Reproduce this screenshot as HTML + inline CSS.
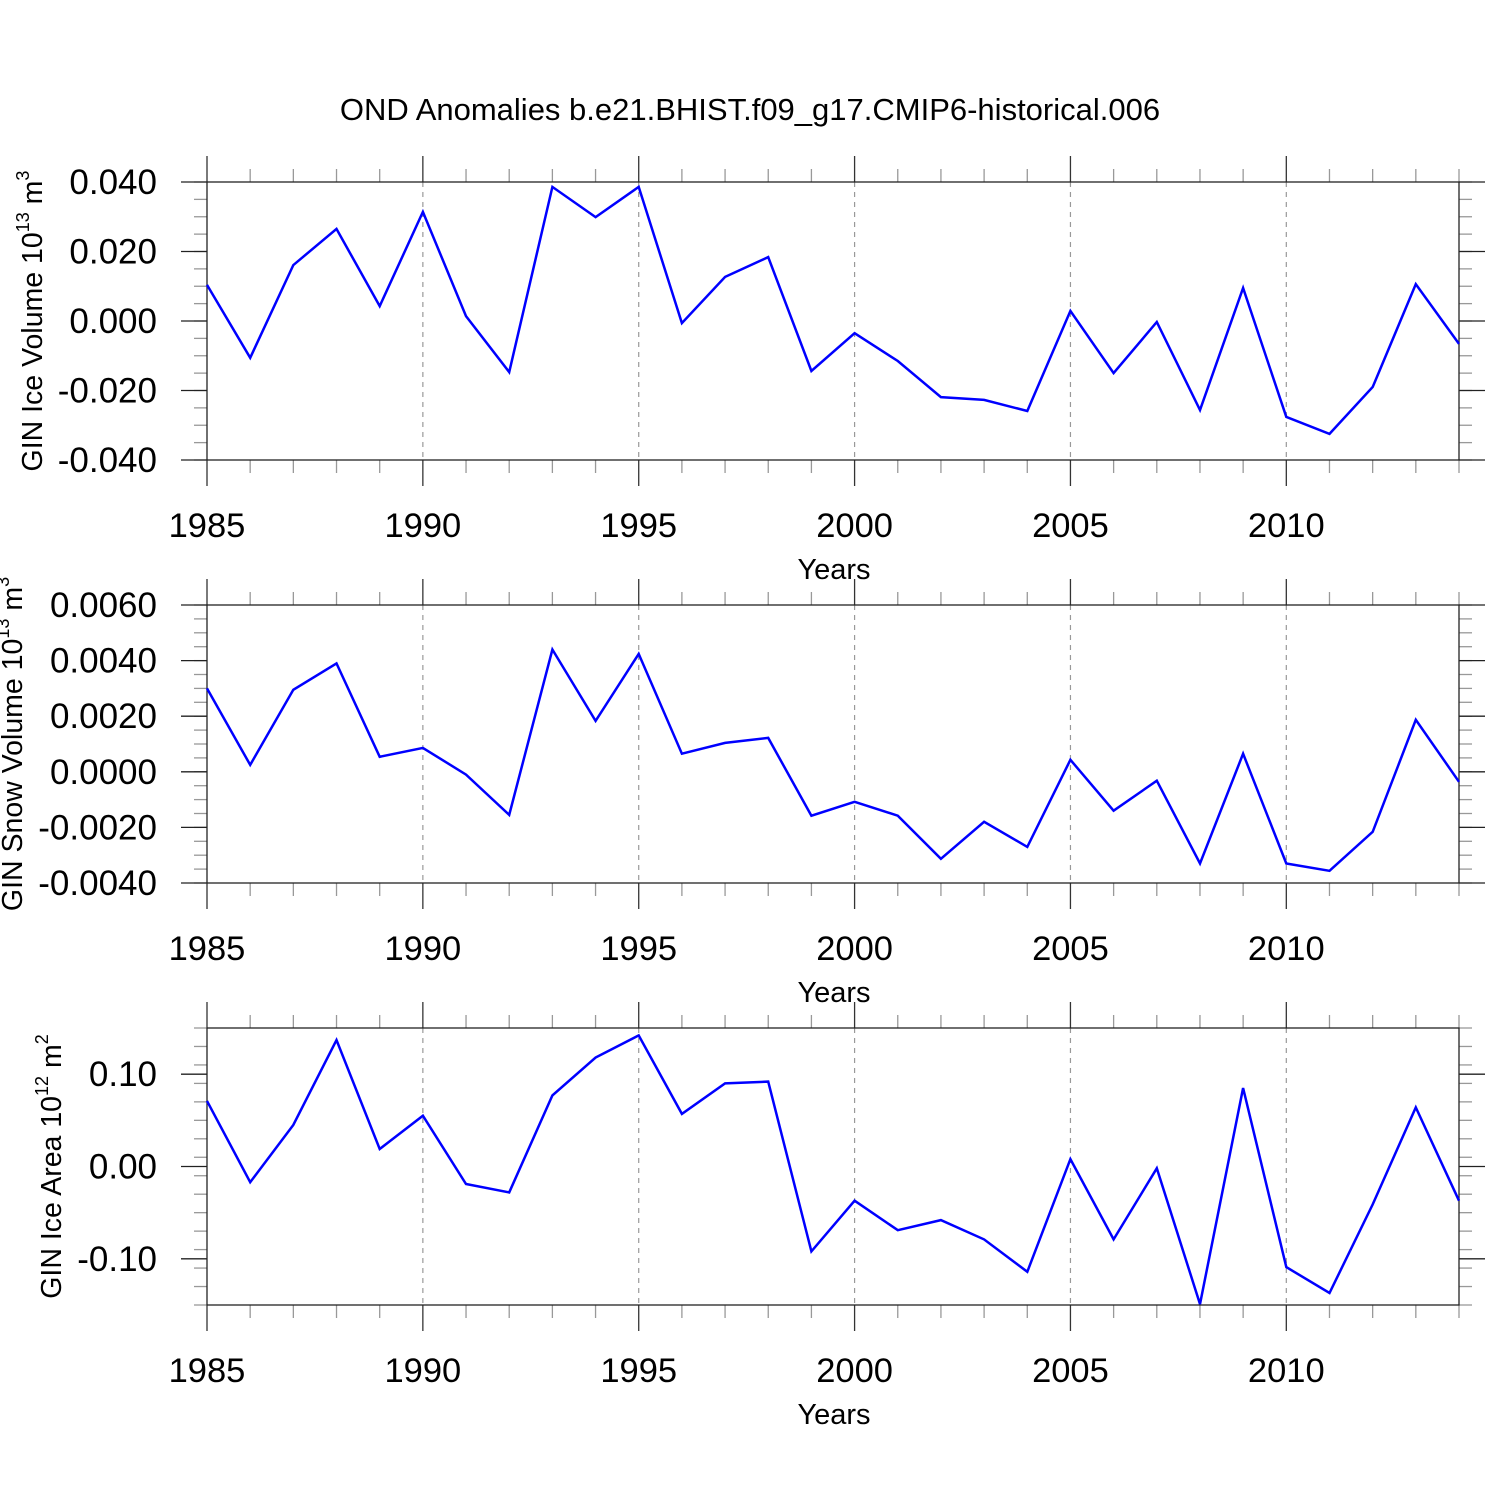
<!DOCTYPE html>
<html><head><meta charset="utf-8"><style>
html,body{margin:0;padding:0;background:#fff}
svg{display:block;font-family:"Liberation Sans",Arial,sans-serif}
</style></head><body>
<svg id="chart" width="1500" height="1500" viewBox="0 0 1500 1500" xmlns="http://www.w3.org/2000/svg">
<text x="750" y="120" font-size="31" text-anchor="middle">OND Anomalies b.e21.BHIST.f09_g17.CMIP6-historical.006</text>
</svg>
<script>
const years = [1985,1986,1987,1988,1989,1990,1991,1992,1993,1994,1995,1996,1997,1998,1999,2000,2001,2002,2003,2004,2005,2006,2007,2008,2009,2010,2011,2012,2013,2014];
const iceVolume = [0.0104,-0.0106,0.0161,0.0265,0.0043,0.0314,0.0014,-0.0147,0.0386,0.0299,0.0386,-0.0006,0.0127,0.0184,-0.0144,-0.0035,-0.0115,-0.0219,-0.0227,-0.0259,0.0029,-0.0150,-0.0003,-0.0256,0.0095,-0.0276,-0.0325,-0.0190,0.0106,-0.0066];
const snowVolume = [0.0030,0.00025,0.00295,0.0039,0.00054,0.00086,-0.0001,-0.00155,0.0044,0.00183,0.00424,0.00065,0.00104,0.00122,-0.00158,-0.00108,-0.00158,-0.00313,-0.0018,-0.0027,0.00043,-0.0014,-0.00032,-0.0033,0.00065,-0.0033,-0.00356,-0.00216,0.00187,-0.00036];
const iceArea = [0.071,-0.017,0.045,0.137,0.019,0.055,-0.019,-0.028,0.077,0.118,0.142,0.057,0.090,0.092,-0.092,-0.037,-0.069,-0.058,-0.079,-0.114,0.008,-0.079,-0.002,-0.149,0.085,-0.109,-0.137,-0.041,0.064,-0.037];
const xTickLabels = ["1985","1990","1995","2000","2005","2010"];
const iceVolTicks = [0.04,0.02,0,-0.02,-0.04];
const iceVolLabels = ["0.040","0.020","0.000","-0.020","-0.040"];
const snowTicks = [0.006,0.004,0.002,0,-0.002,-0.004];
const snowLabels = ["0.0060","0.0040","0.0020","0.0000","-0.0020","-0.0040"];
const areaTicks = [0.1,0,-0.1];
const areaLabels = ["0.10","0.00","-0.10"];

const svg = document.getElementById('chart');
const NS = 'http://www.w3.org/2000/svg';
function mk(tag, attrs, parent){const e=document.createElementNS(NS,tag);for(const k in attrs)e.setAttribute(k,attrs[k]);(parent||svg).appendChild(e);return e;}
const X0=207,X1=1459,Y0=1985,Y1=2014;
const xs = y => X0+(y-Y0)/(Y1-Y0)*(X1-X0);

function panel(cfg){
  const g = mk('g',{});
  
  
  const ys = v => cfg.top+(cfg.max-v)/(cfg.max-cfg.min)*(cfg.bot-cfg.top);
  for(let yr=1990; yr<=2010; yr+=5){
    const l=mk('line',{x1:xs(yr),x2:xs(yr),y1:cfg.top,y2:cfg.bot,stroke:'#999','stroke-width':1.2,'stroke-dasharray':'5,5'},g);
    
    
  }
  for(let yr=Y0; yr<=Y1; yr++){
    const maj = yr%5===0; const len = maj?26:13;
    const col = maj?'#333':'#999';
    mk('line',{x1:xs(yr),x2:xs(yr),y1:cfg.top-len,y2:cfg.top,stroke:col,'stroke-width':1.3},g);
    mk('line',{x1:xs(yr),x2:xs(yr),y1:cfg.bot,y2:cfg.bot+len,stroke:col,'stroke-width':1.3},g);
  }
  xTickLabels.forEach(s=>{
    const t=mk('text',{x:xs(+s),y:cfg.bot+77,'font-size':34.5,'text-anchor':'middle'},g);
    t.textContent=s;
    
    
  });
  const xt=mk('text',{x:834,y:cfg.bot+119,'font-size':29,'text-anchor':'middle'},g);
  xt.textContent='Years';
  
  
  const step=(cfg.ticks[0]-cfg.ticks[1])/cfg.minorN;
  for(let v=cfg.min; v<=cfg.max+1e-12; v+=step){
    const y=ys(v); if(y<cfg.top-0.5||y>cfg.bot+0.5) continue;
    mk('line',{x1:X0-13,x2:X0,y1:y,y2:y,stroke:'#999','stroke-width':1.3},g);
    mk('line',{x1:X1,x2:X1+13,y1:y,y2:y,stroke:'#999','stroke-width':1.3},g);
  }
  cfg.ticks.forEach((v,i)=>{
    const y=ys(v);
    mk('line',{x1:X0-26,x2:X0,y1:y,y2:y,stroke:'#222','stroke-width':1.3},g);
    mk('line',{x1:X1,x2:X1+26,y1:y,y2:y,stroke:'#222','stroke-width':1.3},g);
    const t=mk('text',{x:157,y:y+12,'font-size':35,'text-anchor':'end'},g);
    t.textContent=cfg.labels[i];
    
    
  });
  const box=mk('rect',{x:X0,y:cfg.top,width:X1-X0,height:cfg.bot-cfg.top,fill:'none',stroke:'#222','stroke-width':1.3},g);
  
  
  const pts = years.map((yr,i)=>xs(yr).toFixed(1)+','+ys(cfg.data[i]).toFixed(1)).join(' ');
  const pl=mk('polyline',{points:pts,fill:'none',stroke:'#0000ff','stroke-width':2.5,'stroke-linejoin':'miter'},g);
  
  
  const cy=(cfg.top+cfg.bot)/2;
  const t=mk('text',{x:0,y:0,'font-size':28.5,'text-anchor':'middle',transform:`translate(${cfg.tx},${cy}) rotate(-90)`},g);
  t.innerHTML = cfg.title+' 10<tspan font-size="18" dy="-13">'+cfg.exp+'</tspan><tspan dy="13"> </tspan>m<tspan font-size="18" dy="-13">'+cfg.unit+'</tspan>';
  
  
}
panel({name:'ice-volume-panel',top:182,bot:460,max:0.04,min:-0.04,data:iceVolume,ticks:iceVolTicks,labels:iceVolLabels,minorN:4,title:'GIN Ice Volume',exp:'13',unit:'3',tx:42});
panel({name:'snow-volume-panel',top:605,bot:883,max:0.006,min:-0.004,data:snowVolume,ticks:snowTicks,labels:snowLabels,minorN:4,title:'GIN Snow Volume',exp:'13',unit:'3',tx:22});
panel({name:'ice-area-panel',top:1028,bot:1305,max:0.15,min:-0.15,data:iceArea,ticks:areaTicks,labels:areaLabels,minorN:5,title:'GIN Ice Area',exp:'12',unit:'2',tx:61});
</script>
</body></html>
